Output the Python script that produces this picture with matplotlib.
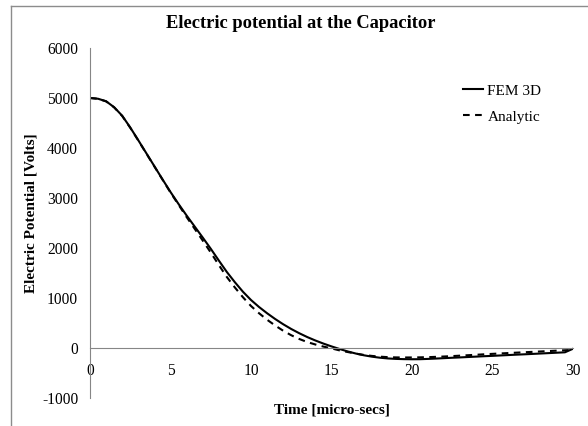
import numpy as np
import matplotlib
matplotlib.use("Agg")
import matplotlib.pyplot as plt
from matplotlib.lines import Line2D


# sample times in micro-seconds (every 0.5 us)
time_us = np.arange(0, 30.5, 0.5)

# FEM 3D result (solid line)
fem_3d = [5000, 4985, 4935, 4815, 4645, 4410, 4155, 3895, 3635, 3375,
          3120, 2880, 2650, 2430, 2210, 1985, 1750, 1520, 1315, 1125,
          960, 820, 695, 580, 475, 380, 295, 218, 150, 88,
          32, -20, -68, -110, -145, -173, -194, -209, -218, -223,
          -225, -224, -218, -211, -203, -195, -188, -180, -172, -164,
          -157, -149, -141, -133, -126, -118, -110, -102, -94, -86,
          -15]

# analytic solution (dashed line)
analytic = [5000, 4985, 4932, 4812, 4640, 4405, 4150, 3890, 3630, 3370,
            3110, 2865, 2620, 2385, 2150, 1910, 1660, 1420, 1210, 1015,
            840, 695, 565, 450, 345, 255, 180, 118, 70, 28,
            -8, -48, -80, -112, -138, -158, -173, -183, -188, -190,
            -189, -187, -183, -177, -170, -162, -153, -144, -135, -126,
            -117, -109, -101, -93, -85, -77, -69, -61, -53, -45,
            -37]

x_ticks = [0, 5, 10, 15, 20, 25, 30]
y_ticks = [-1000, 0, 1000, 2000, 3000, 4000, 5000, 6000]
y_tick_labels = ["-1000", "0", "1000", "2000", "3000", "4000", "5000", "6000"]

AXIS_GREY = "#868686"

plt.rcParams["font.family"] = ["Liberation Serif", "DejaVu Serif"]
plt.rcParams["axes.unicode_minus"] = False

fig = plt.figure(figsize=(5.88, 4.26), dpi=100)
ax = fig.add_axes([90 / 588, 1 - 398 / 426, 483 / 588, 350 / 426])

ax.plot(time_us, fem_3d, color="black", linewidth=1.5, label="FEM 3D")
ax.plot(time_us, analytic, color="black", linewidth=1.5,
        dashes=(3.2, 2.6), label="Analytic")

ax.set_xlim(0, 30)
ax.set_ylim(-1000, 6000)

ax.set_xticks(x_ticks)
ax.set_xticklabels([str(t) for t in x_ticks])
ax.set_yticks(y_ticks)
ax.set_yticklabels(y_tick_labels)

ax.tick_params(axis="both", length=0, labelsize=11.2, colors="black")
ax.tick_params(axis="y", pad=8.5)
ax.tick_params(axis="x", pad=11)

# Excel style: x axis crosses at 0
ax.spines["bottom"].set_position(("data", 0))
ax.spines["bottom"].set_color(AXIS_GREY)
ax.spines["left"].set_color(AXIS_GREY)
ax.spines["top"].set_visible(False)
ax.spines["right"].set_visible(False)

ax.set_xlabel("Time [micro-secs]", fontsize=11, fontweight="bold")
ax.xaxis.set_label_coords(0.5, -0.015, transform=ax.transAxes)
ax.set_ylabel("Electric Potential [Volts]", fontsize=11, fontweight="bold")
ax.yaxis.set_label_coords(38 / 588, 0.5, transform=fig.transFigure)

fig.text(301 / 588, 1 - 24 / 426, "Electric potential at the Capacitor",
         ha="center", va="center", fontsize=13.3, fontweight="bold")

ax.legend(loc="upper left", bbox_to_anchor=(463 / 588, 1 - 84 / 426),
          bbox_transform=fig.transFigure, frameon=False, fontsize=11,
          handlelength=1.3, handletextpad=0.3, labelspacing=0.8,
          borderaxespad=0, borderpad=0)

# chart area border (left and top edges visible)
fig.add_artist(Line2D([11 / 588, 11 / 588], [0, 1 - 6 / 426],
                      transform=fig.transFigure, color="#8c8c8c", linewidth=1))
fig.add_artist(Line2D([11 / 588, 1], [1 - 6 / 426, 1 - 6 / 426],
                      transform=fig.transFigure, color="#8c8c8c", linewidth=1))

fig.savefig("out.png", dpi=100)
